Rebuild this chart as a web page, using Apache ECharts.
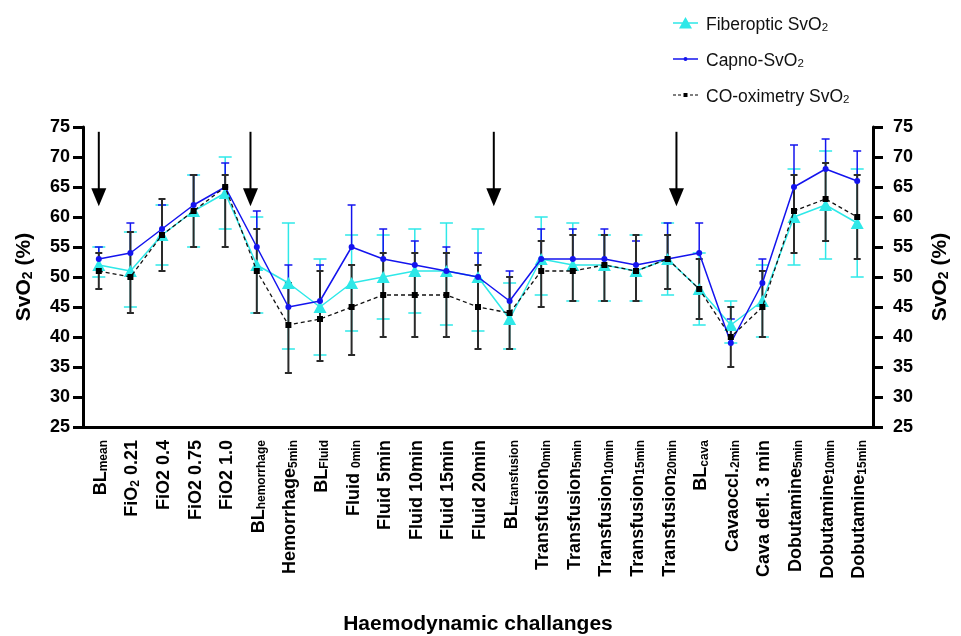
<!DOCTYPE html>
<html><head><meta charset="utf-8">
<script src="https://cdn.jsdelivr.net/npm/echarts@6/dist/echarts.min.js"></script>
<style>html,body{margin:0;padding:0;background:#fff}#c{width:961px;height:636px}</style>
</head><body><div id="c"></div>
<script>
// "_" toggles subscript segments
const categories = ['BL_mean', 'FiO_2_ 0.21', 'FiO2 0.4', 'FiO2 0.75', 'FiO2 1.0', 'BL_hemorrhage',
  'Hemorrhage_5min', 'BL_Fluid', 'Fluid _0min', 'Fluid 5min', 'Fluid 10min', 'Fluid 15min', 'Fluid 20min',
  'BL_transfusion', 'Transfusion_0min', 'Transfusion_5min', 'Transfusion_10min', 'Transfusion_15min',
  'Transfusion_20min', 'BL_cava', 'Cavaoccl._2min', 'Cava defl. 3 min', 'Dobutamine_5min',
  'Dobutamine_10min', 'Dobutamine_15min'];

const seriesNames = ['Fiberoptic SvO_2', 'Capno-SvO_2', 'CO-oximetry SvO_2'];

const fiberMean = [52, 51, 57, 61, 64, 52, 49, 45, 49, 50, 51, 51, 50, 43, 53, 52, 52, 51, 53, 48, 42, 46, 60, 62, 59];
const fiberHi   = [55, 57.5, 62, 67, 70, 60, 59, 53, 57, 57, 58, 59, 58, 49, 60, 59, 57, 57, 59, 54, 46, 52, 68, 71, 68];
const fiberLo   = [50, 45, 52, 55, 58, 44, 38, 37, 41, 43, 44, 42, 41, 38, 47, 46, 46, 46, 47, 42, 39, 40, 52, 53, 50];

const capnoMean = [53, 54, 58, 62, 65, 55, 45, 46, 55, 53, 52, 51, 50, 46, 53, 53, 53, 52, 53, 54, 39, 49, 65, 68, 66];
const capnoHi   = [55, 59, 62, 67, 69, 61, 52, 52, 62, 58, 56, 55, 54, 51, 58, 58, 58, 56, 59, 59, 43, 53, 72, 73, 71];

const coMean = [51, 50, 57, 61, 65, 51, 42, 43, 45, 47, 47, 47, 45, 44, 51, 51, 52, 51, 53, 48, 40, 45, 61, 63, 60];
const coHi   = [54, 57.5, 63, 67, 67, 58, 49, 51, 52, 54, 54, 54, 52, 50, 56, 57, 57, 57, 57, 53, 45, 51, 67, 69, 67];
const coLo   = [48, 44, 51, 55, 55, 44, 34, 36, 37, 40, 40, 40, 38, 38, 45, 46, 46, 46, 48, 43, 35, 40, 54, 56, 53];

const yMin = 25, yMax = 75, yStep = 5;
const arrowPos = [0, 4.8, 12.5, 18.28];   // category positions of the event arrows
const arrowTop = 74.2, arrowTip = 61.8;

const FONT = 'Liberation Sans, Arial, Helvetica, sans-serif';
const CYAN = '#2ee8e8', BLUE = '#1414ee', BLACK = '#000';

function rich(str, m, s) {
  return str.split('_').map((t, k) => t ? '{' + (k % 2 ? s : m) + '|' + t + '}' : '').join('');
}

const chart = echarts.init(document.getElementById('c'), null, {renderer: 'canvas'});

function errRender(color, cap, width, upOnly) {
  return function (params, api) {
    const i = api.value(0);
    const pLo = api.coord([i, api.value(1)]);
    const pHi = api.coord([i, api.value(2)]);
    const st = {stroke: color, lineWidth: width, fill: null};
    const ch = [
      {type: 'line', shape: {x1: pLo[0], y1: pLo[1], x2: pHi[0], y2: pHi[1]}, style: st},
      {type: 'line', shape: {x1: pHi[0] - cap / 2, y1: pHi[1], x2: pHi[0] + cap / 2, y2: pHi[1]}, style: st}
    ];
    if (!upOnly) ch.push({type: 'line', shape: {x1: pLo[0] - cap / 2, y1: pLo[1], x2: pLo[0] + cap / 2, y2: pLo[1]}, style: st});
    return {type: 'group', children: ch};
  };
}

function arrowRender(params, api) {
  const i = api.value(0), f = api.value(1);
  const bw = api.size([1, 0])[0];
  const pt = api.coord([i, api.value(2)]);
  const pb = api.coord([i, api.value(3)]);
  const x = pt[0] + f * bw;
  return {type: 'group', children: [
    {type: 'line', shape: {x1: x, y1: pt[1], x2: x, y2: pb[1] - 16}, style: {stroke: '#000', lineWidth: 2}},
    {type: 'polygon', shape: {points: [[x - 7.5, pb[1] - 18], [x + 7.5, pb[1] - 18], [x, pb[1]]]}, style: {fill: '#000'}}
  ]};
}

const corners = 'M0,0L0.01,0L0,0.01Z M25,14L24.99,14L25,13.99Z ';
const iconCyan = 'path://' + corners + 'M0,6.25L25,6.25L25,7.75L0,7.75Z M12.5,1L19,12.5L6,12.5Z';
const iconBlue = 'path://' + corners + 'M0,6.3L25,6.3L25,7.7L0,7.7Z M10.5,7A2,2 0 1,1 14.5,7A2,2 0 1,1 10.5,7Z';
const iconBlack = 'path://' + corners + 'M0,6.4L3,6.4L3,7.6L0,7.6Z M5,6.4L8,6.4L8,7.6L5,7.6Z M17,6.4L20,6.4L20,7.6L17,7.6Z M22,6.4L25,6.4L25,7.6L22,7.6Z M10.5,5L14.5,5L14.5,9L10.5,9Z';

const labelRich = {
  m: {fontSize: 18, fontWeight: 'bold', fontFamily: FONT, color: '#000', lineHeight: 22, verticalAlign: 'bottom'},
  s: {fontSize: 12, fontWeight: 'bold', fontFamily: FONT, color: '#000', lineHeight: 8, verticalAlign: 'bottom'}
};
const titleRich = {
  m: {fontSize: 21, fontWeight: 'bold', fontFamily: FONT, color: '#000', lineHeight: 26, verticalAlign: 'bottom'},
  s: {fontSize: 14, fontWeight: 'bold', fontFamily: FONT, color: '#000', lineHeight: 10, verticalAlign: 'bottom'}
};

function yAxisCfg(pos, margin) {
  return {
    type: 'value', position: pos, min: yMin, max: yMax, interval: yStep,
    name: rich('SvO_2_ (%)', 'm', 's'), nameLocation: 'middle', nameRotate: 90,
    nameGap: pos === 'left' ? 48 : 52,
    nameTextStyle: {rich: titleRich},
    axisLine: {show: true, lineStyle: {color: '#000', width: 3}},
    axisTick: {show: true, length: 10, lineStyle: {color: '#000', width: 3}},
    axisLabel: {margin: margin, fontSize: 18, fontWeight: 'bold', fontFamily: FONT, color: '#000'},
    splitLine: {show: false}
  };
}

const option = {
  animation: false,
  backgroundColor: '#fff',
  grid: {left: 83, right: 88, top: 127, bottom: 204, containLabel: false},
  legend: {
    orient: 'vertical', left: 668, top: 11, itemGap: 18, itemWidth: 25, itemHeight: 14,
    selectedMode: false,
    data: [
      {name: seriesNames[0], icon: iconCyan},
      {name: seriesNames[1], icon: iconBlue},
      {name: seriesNames[2], icon: iconBlack}
    ],
    formatter: n => rich(n, 'n', 's'),
    textStyle: {
      padding: [0, 0, 0, 3],
      rich: {
        n: {fontSize: 17.5, fontFamily: FONT, color: '#111', lineHeight: 22, verticalAlign: 'bottom'},
        s: {fontSize: 11.5, fontFamily: FONT, color: '#111', lineHeight: 6, verticalAlign: 'bottom'}
      }
    }
  },
  xAxis: {
    type: 'category', data: categories, boundaryGap: true,
    name: 'Haemodynamic challanges', nameLocation: 'middle', nameGap: 187,
    nameTextStyle: {fontSize: 21, fontWeight: 'bold', fontFamily: FONT, color: '#000'},
    axisLine: {onZero: false, lineStyle: {color: '#000', width: 3}},
    axisTick: {alignWithLabel: true, length: 10, lineStyle: {color: '#000', width: 3}},
    axisLabel: {rotate: 90, interval: 0, margin: 13, formatter: v => rich(v, 'm', 's'), rich: labelRich}
  },
  yAxis: [yAxisCfg('left', 13), yAxisCfg('right', 20)],
  series: [
    {type: 'custom', name: 'fiberErr', z: 2, renderItem: errRender(CYAN, 13, 1.5, false),
      encode: {x: 0, y: [1, 2]}, data: fiberMean.map((m, i) => [i, fiberLo[i], fiberHi[i]])},
    {type: 'custom', name: 'capnoErr', z: 2, renderItem: errRender(BLUE, 8, 1.5, true),
      encode: {x: 0, y: [1, 2]}, data: capnoMean.map((m, i) => [i, m, capnoHi[i]])},
    {type: 'custom', name: 'coErr', z: 3, renderItem: errRender('#2a2a2a', 7, 2, false),
      encode: {x: 0, y: [1, 2]}, data: coMean.map((m, i) => [i, coLo[i], coHi[i]])},
    {type: 'line', name: seriesNames[0], z: 4, data: fiberMean, symbol: 'triangle', symbolSize: [13, 12],
      color: CYAN, lineStyle: {color: CYAN, width: 1.5}, itemStyle: {color: CYAN, borderWidth: 0}},
    {type: 'line', name: seriesNames[1], z: 5, data: capnoMean, symbol: 'circle', symbolSize: 6,
      color: BLUE, lineStyle: {color: BLUE, width: 1.5}, itemStyle: {color: BLUE, borderWidth: 0}},
    {type: 'line', name: seriesNames[2], z: 6, data: coMean, symbol: 'rect', symbolSize: 6,
      color: BLACK, lineStyle: {color: '#111', width: 1.3, type: [4, 3]}, itemStyle: {color: BLACK, borderWidth: 0}},
    {type: 'custom', name: 'arrows', z: 7, renderItem: arrowRender, encode: {x: 0, y: 2},
      data: arrowPos.map(p => [Math.floor(p), p - Math.floor(p), arrowTop, arrowTip])}
  ]
};
chart.setOption(option);
</script></body></html>
